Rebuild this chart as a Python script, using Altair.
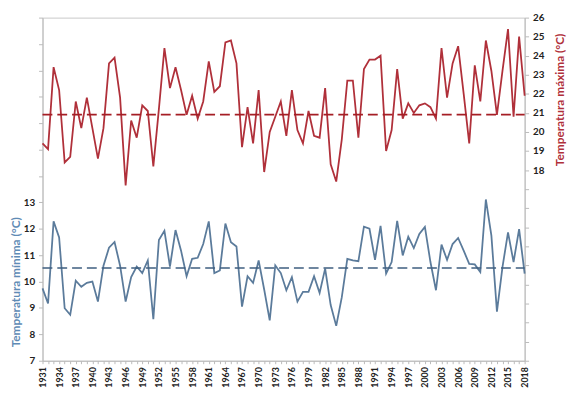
import altair as alt
import pandas as pd

years = list(range(1931, 2019))
tmax = [19.4, 19.1, 23.4, 22.2, 18.4, 18.7, 21.6, 20.2, 21.8, 20.2,
        18.6, 20.2, 23.6, 23.9, 21.8, 17.2, 20.6, 19.7, 21.4, 21.1,
        18.2, 21.2, 24.4, 22.3, 23.4, 22.2, 20.9, 21.9, 20.7, 21.6,
        23.7, 22.1, 22.4, 24.7, 24.8, 23.6, 19.2, 21.3, 19.4, 22.2,
        17.9, 20.0, 20.8, 21.6, 19.8, 22.2, 20.1, 19.4, 21.1, 19.8,
        19.7, 22.3, 18.3, 17.4, 19.6, 22.7, 22.7, 19.7, 23.3, 23.8,
        23.8, 24.0, 19.0, 20.1, 23.3, 20.7, 21.5, 21.0, 21.4, 21.5,
        21.3, 20.7, 24.4, 21.8, 23.6, 24.5, 22.0, 19.4, 23.5, 21.6,
        24.8, 23.2, 20.9, 23.2, 25.4, 20.8, 25.0, 21.9]
tmin = [9.74, 9.17, 12.28, 11.67, 8.99, 8.74, 10.03, 9.8, 9.95, 10.0,
        9.24, 10.6, 11.28, 11.5, 10.6, 9.24, 10.17, 10.57, 10.32, 10.8,
        8.57, 11.57, 11.92, 10.57, 11.95, 11.17, 10.2, 10.86, 10.9, 11.42,
        12.28, 10.32, 10.42, 12.2, 11.49, 11.33, 9.05, 10.2, 9.95, 10.8,
        9.7, 8.53, 10.61, 10.32, 9.67, 10.17, 9.24, 9.61, 9.61, 10.2,
        9.57, 10.49, 9.11, 8.32, 9.4, 10.86, 10.8, 10.77, 12.08, 12.0,
        10.82, 12.11, 10.3, 10.74, 12.3, 10.99, 11.7, 11.27, 11.8, 12.07,
        10.74, 9.67, 11.4, 10.82, 11.42, 11.65, 11.17, 10.67, 10.65, 10.36,
        13.11, 11.74, 8.86, 10.55, 11.86, 10.74, 11.99, 10.3]
mean_max = 20.91
mean_min = 10.51

max_title = "Temperatura máxima (°C)"
min_title = "Temperatura mínima (°C)"

RED = "#b0303a"
BLUE = "#5b7b9b"
FONT = "Lato"

df = pd.DataFrame({"year": years, "tmax": tmax, "tmin": tmin,
                   "mean_max": [mean_max] * len(years),
                   "mean_min": [mean_min] * len(years)})

xenc = alt.X(
    "year:Q",
    scale=alt.Scale(domain=[1931, 2018], nice=False, zero=False),
    axis=alt.Axis(
        title=None,
        values=years,
        labelExpr="(datum.value - 1931) % 3 == 0 ? datum.label : ''",
        format="d",
        labelAngle=270,
        labelAlign="right",
        labelBaseline="middle",
        labelFontSize=9,
        labelFontWeight="bold",
        labelColor="#222",
        labelPadding=3,
        labelFont=FONT,
        tickSize=3,
        tickColor="#bbb",
        domainColor="#bbb",
        grid=False,
        labelOverlap=False,
        labelFlush=False,
    ),
)

max_scale = alt.Scale(domain=[8, 26], nice=False, zero=False)
min_scale = alt.Scale(domain=[7, 20], nice=False, zero=False)

max_axis = alt.Axis(
    orient="right",
    title=max_title,
    values=list(range(8, 27)),
    labelExpr="datum.value >= 18 ? datum.label : ''",
    titleColor=RED,
    titleFontSize=12,
    titleFontWeight="bold",
    titleFont=FONT,
    titleAngle=270,
    titleX=35,
    titleY=83,
    titleAlign="center",
    titleBaseline="middle",
    labelFontSize=10,
    labelFontWeight="bold",
    labelColor="#222",
    labelFont=FONT,
    labelPadding=4,
    tickSize=4,
    tickColor="#bbb",
    domainColor="#bbb",
    grid=False,
    labelFlush=False,
)

min_axis = alt.Axis(
    orient="left",
    title=min_title,
    values=list(range(7, 21)),
    labelExpr="datum.value <= 13 ? datum.label : ''",
    titleColor="#5f8bb5",
    titleFontSize=12,
    titleFontWeight="bold",
    titleFont=FONT,
    titleAngle=270,
    titleX=-27,
    titleY=268,
    titleAlign="center",
    titleBaseline="middle",
    labelFontSize=10,
    labelFontWeight="bold",
    labelColor="#222",
    labelFont=FONT,
    labelPadding=4,
    tickSize=4,
    tickColor="#bbb",
    domainColor="#bbb",
    grid=False,
    labelFlush=False,
)

base = alt.Chart(df)

red_line = base.mark_line(color=RED, strokeWidth=1.8).encode(
    x=xenc, y=alt.Y("tmax:Q", scale=max_scale, axis=max_axis))
red_rule = base.mark_line(color="#a51e25", strokeWidth=1.6, strokeDash=[10, 5]).encode(
    x=xenc, y=alt.Y("mean_max:Q", scale=max_scale, axis=max_axis))

blue_line = base.mark_line(color=BLUE, strokeWidth=1.8).encode(
    x=xenc, y=alt.Y("tmin:Q", scale=min_scale, axis=min_axis))
blue_rule = base.mark_line(color="#3f5f80", strokeWidth=1.6, strokeDash=[10, 5]).encode(
    x=xenc, y=alt.Y("mean_min:Q", scale=min_scale, axis=min_axis))

red = alt.layer(red_line, red_rule)
blue = alt.layer(blue_line, blue_rule)

chart = (
    alt.layer(red, blue)
    .resolve_scale(y="independent")
    .properties(
        width=489,
        height=348,
        autosize=alt.AutoSizeParams(type="none"),
        padding={"left": 35, "top": 7, "right": 46, "bottom": 31},
        background="white",
    )
    .configure_view(stroke="#c8c8c8", strokeWidth=1)
)

chart.save("out.html", embed_options={"renderer": "svg", "actions": False})
